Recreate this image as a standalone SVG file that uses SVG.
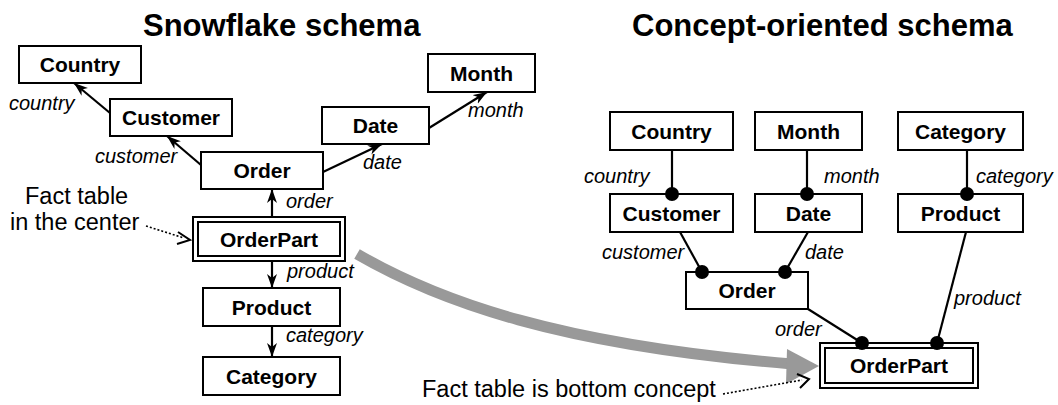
<svg xmlns="http://www.w3.org/2000/svg" width="1058" height="405" viewBox="0 0 1058 405">
<defs>
<style>
.box{fill:#fff;stroke:#000;stroke-width:2}
.nl{font-family:"Liberation Sans",Arial,sans-serif;font-weight:bold;font-size:21px;text-anchor:middle;fill:#000}
.el{font-family:"Liberation Sans",Arial,sans-serif;font-style:italic;font-size:20px;fill:#000}
.an{font-family:"Liberation Sans",Arial,sans-serif;font-size:23.5px;fill:#000}
.tt{font-family:"Liberation Sans",Arial,sans-serif;font-weight:bold;font-size:31px;fill:#000}
.ln{stroke:#000;stroke-width:2.2;fill:none}
.arr{stroke:#000;stroke-width:2.2;fill:none;marker-end:url(#ah)}
.dot{fill:#000}
.dash{stroke:#000;stroke-width:1.6;fill:none;stroke-dasharray:2 2}
.chev{stroke:#000;stroke-width:2;fill:none}
</style>
<marker id="ah" markerUnits="userSpaceOnUse" markerWidth="16" markerHeight="12" refX="14" refY="5" orient="auto">
<path d="M0,0 L14,5 L0,10 L4,5 z" fill="#000"/>
</marker>
</defs>
<rect width="1058" height="405" fill="#fff"/>
<text class="tt" x="143" y="36">Snowflake schema</text>
<text class="tt" x="632" y="36">Concept-oriented schema</text>

<g id="connectors">
<line class="arr" x1="201" y1="165" x2="167" y2="136"/>
<line class="arr" x1="110" y1="113" x2="74" y2="83"/>
<line class="arr" x1="323" y1="172" x2="382" y2="144"/>
<line class="arr" x1="429" y1="128" x2="487" y2="92"/>
<line class="arr" x1="272" y1="217" x2="272" y2="189"/>
<line class="arr" x1="272" y1="261" x2="272" y2="288"/>
<line class="arr" x1="272" y1="326" x2="272" y2="357"/>
<path class="dash" d="M146,226 L184,238"/>
<path class="chev" d="M178,232 L190,240 L177,244"/>
<line class="ln" x1="672" y1="150" x2="672" y2="194"/>
<line class="ln" x1="807" y1="150" x2="807" y2="194"/>
<line class="ln" x1="967" y1="150" x2="967" y2="194"/>
<line class="ln" x1="680" y1="232" x2="702" y2="272"/>
<line class="ln" x1="808" y1="232" x2="785" y2="272"/>
<line class="ln" x1="808" y1="309" x2="862" y2="343"/>
<line class="ln" x1="966" y1="232" x2="937" y2="343"/>
<path d="M357,254 C440,302 560,345 792,364" stroke="#999" stroke-width="11" fill="none"/>
<polygon points="819,366 787,349 786,384" fill="#999"/>
<path class="dash" d="M723,394 L802,380"/>
<path class="chev" d="M797,374 L809,379 L800,388"/>
</g>

<g id="sf-country"><rect class="box" x="19" y="46" width="122" height="37"/><text class="nl" x="80" y="72">Country</text></g>
<g id="sf-customer"><rect class="box" x="110" y="99" width="122" height="37"/><text class="nl" x="171" y="125">Customer</text></g>
<g id="sf-order"><rect class="box" x="201" y="152" width="122" height="37"/><text class="nl" x="262" y="178">Order</text></g>
<g id="sf-date"><rect class="box" x="322" y="107" width="107" height="37"/><text class="nl" x="375.5" y="133">Date</text></g>
<g id="sf-month"><rect class="box" x="428" y="54" width="107" height="38"/><text class="nl" x="481.5" y="81">Month</text></g>
<g id="sf-orderpart"><rect class="box" x="193" y="217" width="152" height="44"/><rect class="box" x="198" y="222" width="142" height="34"/><text class="nl" x="269" y="247">OrderPart</text></g>
<g id="sf-product"><rect class="box" x="203" y="288" width="137" height="38"/><text class="nl" x="271.5" y="315">Product</text></g>
<g id="sf-category"><rect class="box" x="203" y="357" width="137" height="38"/><text class="nl" x="271.5" y="384">Category</text></g>

<g id="sf-labels">
<text class="el" x="9" y="110">country</text>
<text class="el" x="95" y="163">customer</text>
<text class="el" x="363" y="169">date</text>
<text class="el" x="468" y="117">month</text>
<text class="el" x="286" y="208">order</text>
<text class="el" x="287" y="278">product</text>
<text class="el" x="286" y="342">category</text>
<text class="an" x="25" y="204">Fact table</text>
<text class="an" x="10" y="230">in the center</text>
</g>

<g id="co-country"><rect class="box" x="610" y="112" width="123" height="38"/><text class="nl" x="671.5" y="139">Country</text></g>
<g id="co-month"><rect class="box" x="755" y="112" width="107" height="38"/><text class="nl" x="808.5" y="139">Month</text></g>
<g id="co-category"><rect class="box" x="898" y="112" width="125" height="38"/><text class="nl" x="960.5" y="139">Category</text></g>
<g id="co-customer"><rect class="box" x="610" y="194" width="123" height="38"/><text class="nl" x="671.5" y="221">Customer</text></g>
<g id="co-date"><rect class="box" x="755" y="194" width="107" height="38"/><text class="nl" x="808.5" y="221">Date</text></g>
<g id="co-product"><rect class="box" x="898" y="194" width="125" height="38"/><text class="nl" x="960.5" y="221">Product</text></g>
<g id="co-order"><rect class="box" x="686" y="272" width="122" height="37"/><text class="nl" x="747" y="298">Order</text></g>
<g id="co-orderpart"><rect class="box" x="820" y="343" width="158" height="45"/><rect class="box" x="825" y="348" width="148" height="35"/><text class="nl" x="899" y="373">OrderPart</text></g>

<g id="co-dots">
<circle class="dot" cx="672" cy="194" r="7"/>
<circle class="dot" cx="807" cy="194" r="7"/>
<circle class="dot" cx="967" cy="194" r="7"/>
<circle class="dot" cx="702" cy="272" r="7"/>
<circle class="dot" cx="785" cy="272" r="7"/>
<circle class="dot" cx="862" cy="343" r="7"/>
<circle class="dot" cx="937" cy="343" r="7"/>
</g>

<g id="co-labels">
<text class="el" x="584" y="183">country</text>
<text class="el" x="824" y="183">month</text>
<text class="el" x="976" y="183">category</text>
<text class="el" x="602" y="259">customer</text>
<text class="el" x="805" y="259">date</text>
<text class="el" x="954" y="305">product</text>
<text class="el" x="775" y="336">order</text>
<text class="an" x="422" y="397">Fact table is bottom concept</text>
</g>
</svg>
